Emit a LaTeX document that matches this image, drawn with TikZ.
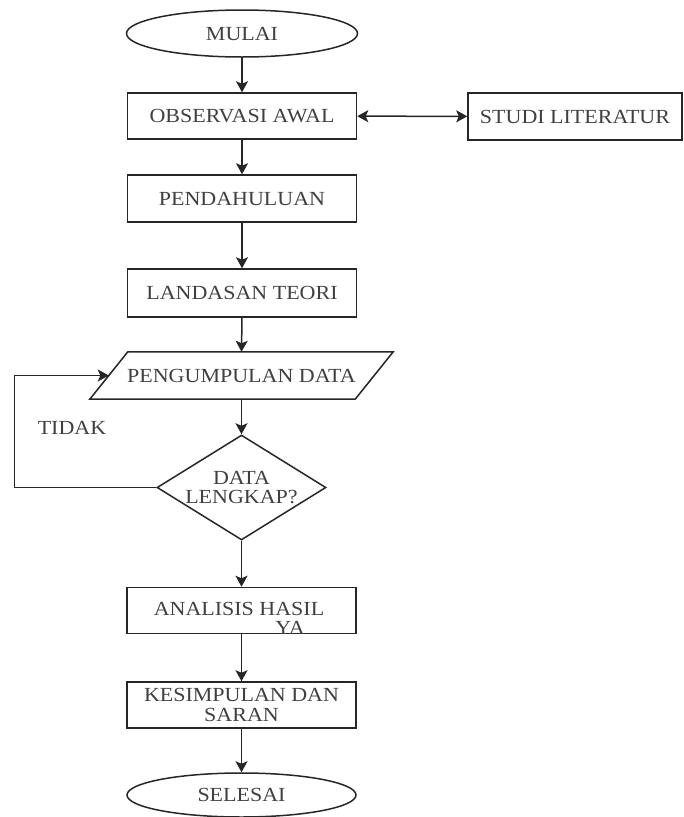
\documentclass[tikz,border=0pt]{standalone}
\usepackage{fontspec}
\setmainfont{Liberation Serif}[FakeStretch=1.1]
\usetikzlibrary{shapes.geometric,arrows.meta}
\definecolor{ink}{HTML}{262626}
\definecolor{txt}{HTML}{404040}
\tikzset{
  every node/.style={font=\fontsize{20}{19.5}\selectfont, text=txt},
  procbox/.style={draw=ink, line width=1.5pt, rectangle, minimum width=229, minimum height=46, inner sep=0pt, align=center},
  termbox/.style={draw=ink, line width=1.5pt, ellipse, minimum width=231, minimum height=47, inner sep=0pt},
  decbox/.style={draw=ink, line width=1.5pt, diamond, minimum width=169, minimum height=105, inner sep=0pt},
  tip/.tip={Stealth[length=11pt,width=12pt,inset=2.5pt]},
  flow/.style={draw=ink, line width=1.5pt, -tip},
  biflow/.style={draw=ink, line width=1.5pt, tip-tip},
}
\begin{document}
\begin{tikzpicture}[x=1pt,y=-1pt]
\useasboundingbox (0,0) rectangle (684,817);

% main column
\node[termbox] (mulai) at (242,33.5) {MULAI};
\node[procbox] (obs) at (242,116) {OBSERVASI AWAL};
\node[procbox, minimum width=214, minimum height=47] (studi) at (575,116.5) {STUDI LITERATUR};
\node[procbox, minimum height=47] (pend) at (242,198.5) {PENDAHULUAN};
\node[procbox, minimum height=48] (land) at (242,293) {LANDASAN TEORI};

% data collection (parallelogram drawn around a plain node)
\node[rectangle, minimum width=265, minimum height=47, inner sep=0pt] (pd) at (241.5,375.5) {PENGUMPULAN DATA};
\draw[ink, line width=1.5pt, line join=miter]
  ([xshift=19]pd.north west) -- ([xshift=19]pd.north east)
  -- ([xshift=-19]pd.south east) -- ([xshift=-19]pd.south west) -- cycle;

% decision
\node[decbox] (dec) at (241.5,487.5) {};
\node[align=center, inner sep=0pt] (dectxt) at (dec.center) {DATA\\LENGKAP?};
\node[inner sep=0pt] (tidak) at (72,428) {TIDAK};

\node[procbox] (anal) at (241.5,610.5) {};
\node[inner sep=0pt] (analtxt) at (239,609) {ANALISIS HASIL};
\node[inner sep=0pt] (ya) at (290,628) {YA};
\node[procbox] (kes) at (241.5,705) {KESIMPULAN DAN\\SARAN};
\node[termbox, minimum width=229, minimum height=44] (sel) at (241.5,795) {SELESAI};

% connectors
\draw[flow] (mulai) -- (obs);
\draw[biflow] (obs) -- (studi);
\draw[flow] (obs) -- (pend);
\draw[flow] (pend) -- (land);
\draw[flow] (land.south) -- (pd.north);
\draw[flow] (pd.south) -- (dec.north);
\draw[flow] (dec.west) -- ++(-142,0) |- (pd.west);
\draw[flow] (dec.south) -- (anal.north);
\draw[flow] (anal) -- (kes);
\draw[flow] (kes) -- (sel);
\end{tikzpicture}
\end{document}
